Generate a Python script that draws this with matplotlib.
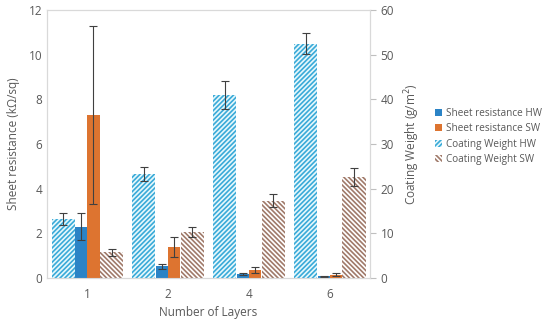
import matplotlib.pyplot as plt
import numpy as np

plt.rcParams['font.family'] = ['Open Sans', 'DejaVu Sans']
plt.rcParams['hatch.linewidth'] = 1.2

layers = ['1', '2', '4', '6']

# sheet resistance (kOhm/sq), left axis
sheet_hw = [2.3, 0.52, 0.17, 0.07]
sheet_hw_err = [0.6, 0.1, 0.05, 0.02]
sheet_sw = [7.3, 1.37, 0.35, 0.15]
sheet_sw_err = [4.0, 0.45, 0.13, 0.07]

# coating weight (g/m2), right axis
coat_hw = [13.2, 23.3, 41.0, 52.5]
coat_hw_err = [1.3, 1.5, 3.1, 2.3]
coat_sw = [5.8, 10.3, 17.3, 22.7]
coat_sw_err = [0.8, 1.1, 1.5, 2.0]

grey = '#595959'
blue = '#2b83c6'
orange = '#dd7430'
hw_hatch = '#3aaad8'
sw_hatch = '#a07a6a'

fig = plt.figure(figsize=(5.5, 3.24), dpi=100)
ax = fig.add_axes([0.0855, 0.142, 0.5875, 0.827])
ax2 = ax.twinx()

x = np.arange(len(layers))
cw = 0.285
sw = 0.15
ekw = dict(ecolor='#404040', elinewidth=0.8, capsize=3, capthick=0.8)

b1 = ax.bar(x - 0.075, sheet_hw, sw, color=blue, yerr=sheet_hw_err, error_kw=ekw,
            label='Sheet resistance HW', zorder=3)
b2 = ax.bar(x + 0.075, sheet_sw, sw, color=orange, yerr=sheet_sw_err, error_kw=ekw,
            label='Sheet resistance SW', zorder=3)
b3 = ax2.bar(x - 0.3, coat_hw, cw, facecolor='#e6f8fc', edgecolor=hw_hatch, hatch='///////',
             linewidth=0, yerr=coat_hw_err, error_kw=ekw, label='Coating Weight HW')
b4 = ax2.bar(x + 0.3, coat_sw, cw, facecolor='white', edgecolor=sw_hatch, hatch='\\\\\\\\\\\\\\',
             linewidth=0, yerr=coat_sw_err, error_kw=ekw, label='Coating Weight SW')

ax.set_xlim(-0.5, 3.5)
ax.set_ylim(0, 12)
ax.set_yticks(range(0, 13, 2))
ax2.set_ylim(0, 60)
ax2.set_yticks(range(0, 61, 10))
ax.set_xticks(x)
ax.set_xticklabels(layers)

for a in (ax, ax2):
    for s in a.spines.values():
        s.set_color('#d9d9d9')
        s.set_linewidth(0.8)
ax.tick_params(axis='y', length=0, colors=grey, labelsize=8.5)
ax.tick_params(axis='x', length=0, colors=grey, labelsize=8.5, pad=7)
ax2.tick_params(axis='y', length=4, color='#bfbfbf', labelcolor=grey, labelsize=8.5)

ax.set_ylabel('Sheet resistance (k\u03a9/sq)', color=grey, fontsize=8.5, labelpad=6)
ax2.set_ylabel('Coating Weight (g/m$^2$)', color=grey, fontsize=8.5, labelpad=6)
ax.set_xlabel('Number of Layers', color=grey, fontsize=8.5, labelpad=4)

fig.legend(handles=[b1, b2, b3, b4], loc='upper left', bbox_to_anchor=(0.775, 0.695),
           frameon=False, fontsize=7.2, labelcolor=grey, handlelength=0.7,
           handleheight=0.7, handletextpad=0.4, labelspacing=0.45)

fig.savefig('out.png', dpi=100)
